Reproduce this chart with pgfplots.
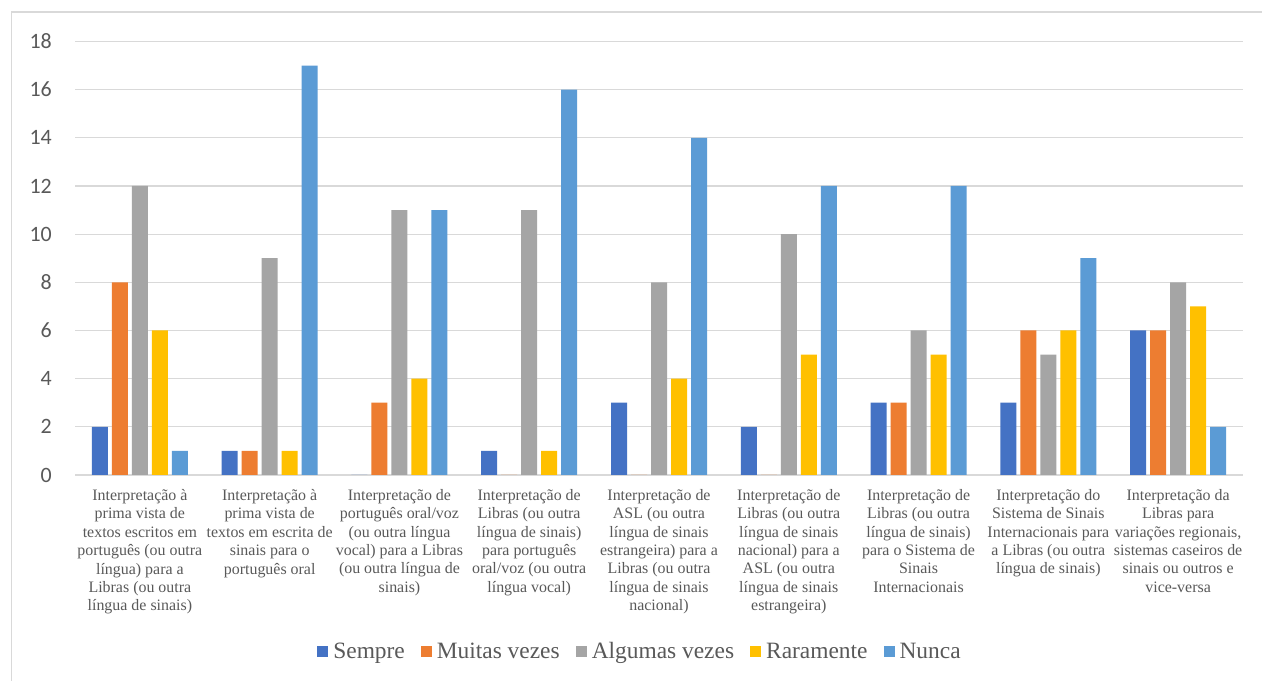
\documentclass[border=0pt]{standalone}
\usepackage{pgfplots}
\pgfplotsset{compat=1.18}
\usepackage{fontspec}
\setmainfont{Liberation Serif}
\setsansfont{Carlito}
\definecolor{gridgray}{HTML}{D9D9D9}
\definecolor{txtgray}{HTML}{595959}
\definecolor{cA}{HTML}{4472C4}
\definecolor{cB}{HTML}{ED7D31}
\definecolor{cC}{HTML}{A5A5A5}
\definecolor{cD}{HTML}{FFC000}
\definecolor{cE}{HTML}{5B9BD5}
\newcommand{\sw}[1]{{\color{#1}\rule[1bp]{11bp}{11bp}}\hspace{5bp}}
\begin{document}
\begin{tikzpicture}
\path[use as bounding box] (0,0) rectangle (1262bp,681bp);
\fill[white] (0,0) rectangle (1262bp,681bp);
\draw[gridgray, line width=1.2bp] (11.5bp,0) -- (11.5bp,669bp) -- (1262bp,669bp);
\begin{axis}[
  at={(75bp,206bp)}, anchor=south west,
  scale only axis, width=1168bp, height=433.5bp,
  ymin=0, ymax=18, xmin=-0.5, xmax=8.5,
  ytick={0,2,...,18},
  xtick={0,...,8},
  major tick length=0pt,
  axis line style={draw=none},
  ymajorgrids,
  grid style={draw=gridgray, line width=1.2bp},
  yticklabel={\sffamily\fontsize{22}{24}\selectfont\pgfmathprintnumber[assume math mode=true]{\tick}},
  yticklabel style={text=txtgray, inner sep=0pt, anchor=east, xshift=-23bp},
  xticklabel style={font=\rmfamily\fontsize{16}{18.5}\selectfont, text=txtgray, inner sep=0pt, anchor=north, align=center, yshift=-14bp},
  xticklabels={
    {Interpretação à\\prima vista de\\textos escritos em\\português (ou outra\\língua) para a\\Libras (ou outra\\língua de sinais)},
    {Interpretação à\\prima vista de\\textos em escrita de\\sinais para o\\português oral},
    {Interpretação de\\português oral/voz\\(ou outra língua\\vocal) para a Libras\\(ou outra língua de\\sinais)},
    {Interpretação de\\Libras (ou outra\\língua de sinais)\\para português\\oral/voz (ou outra\\língua vocal)},
    {Interpretação de\\ASL (ou outra\\língua de sinais\\estrangeira) para a\\Libras (ou outra\\língua de sinais\\nacional)},
    {Interpretação de\\Libras (ou outra\\língua de sinais\\nacional) para a\\ASL (ou outra\\língua de sinais\\estrangeira)},
    {Interpretação de\\Libras (ou outra\\língua de sinais)\\para o Sistema de\\Sinais\\Internacionais},
    {Interpretação do\\Sistema de Sinais\\Internacionais para\\a Libras (ou outra\\língua de sinais)},
    {Interpretação da\\Libras para\\variações regionais,\\sistemas caseiros de\\sinais ou outros e\\vice-versa}
  },
  ybar=4bp, bar width=16bp,
]
\addplot[fill=cA, draw=none] coordinates {(0,2) (1,1) (2,0) (3,1) (4,3) (5,2) (6,3) (7,3) (8,6)};
\addplot[fill=cB, draw=none] coordinates {(0,8) (1,1) (2,3) (3,0) (4,0) (5,0) (6,3) (7,6) (8,6)};
\addplot[fill=cC, draw=none] coordinates {(0,12) (1,9) (2,11) (3,11) (4,8) (5,10) (6,6) (7,5) (8,8)};
\addplot[fill=cD, draw=none] coordinates {(0,6) (1,1) (2,4) (3,1) (4,4) (5,5) (6,5) (7,6) (8,7)};
\addplot[fill=cE, draw=none] coordinates {(0,1) (1,17) (2,11) (3,16) (4,14) (5,12) (6,12) (7,9) (8,2)};
\end{axis}
\node[anchor=base, inner sep=0pt, text=txtgray, font=\rmfamily\fontsize{23.5}{26}\selectfont] at (639bp,23bp)
  {\sw{cA}Sempre\hspace{16bp}\sw{cB}Muitas vezes\hspace{16bp}\sw{cC}Algumas vezes\hspace{16bp}\sw{cD}Raramente\hspace{16bp}\sw{cE}Nunca};
\end{tikzpicture}
\end{document}
